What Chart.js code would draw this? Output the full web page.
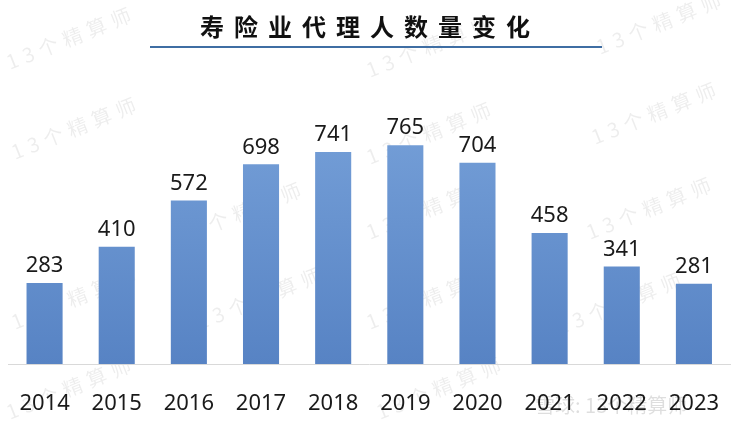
<!DOCTYPE html>
<html>
<head>
<meta charset="utf-8">
<script src="https://cdn.jsdelivr.net/npm/chart.js@4.4.1/dist/chart.umd.min.js"></script>
<style>
  html, body { margin: 0; padding: 0; background: #fff; }
  #wrap { width: 739px; height: 430px; position: relative; }
</style>
</head>
<body>
<div id="wrap"><canvas id="c" width="739" height="430"></canvas></div>
<script>
// ── DATA ────────────────────────────────────────────────
const years  = ['2014', '2015', '2016', '2017', '2018', '2019', '2020', '2021', '2022', '2023'];
const agents = [283, 410, 572, 698, 741, 765, 704, 458, 341, 281];
const titleText = '寿险业代理人数量变化';
const watermark = '13个精算师';

// ── PLUGINS ─────────────────────────────────────────────
const titlePlugin = {
  id: 'titleLine',
  beforeDraw(chart) {
    const { ctx } = chart;
    ctx.save();
    // faint diagonal watermarks
    ctx.fillStyle = 'rgba(0,0,0,0.07)';
    ctx.font = '20px "Noto Sans CJK SC"';
    ctx.letterSpacing = '6px';
    const spots = [[10, 70], [370, 78], [600, 55], [15, 160], [370, 165], [595, 145],
                   [180, 245], [370, 240], [590, 240], [15, 330], [200, 330], [370, 330],
                   [560, 335], [10, 420], [380, 420]];
    spots.forEach(([x, y]) => {
      ctx.save();
      ctx.translate(x, y);
      ctx.rotate(-0.38);
      ctx.fillText(watermark, 0, 0);
      ctx.restore();
    });
    ctx.restore();
  },
  afterDraw(chart) {
    const { ctx } = chart;
    ctx.save();
    ctx.fillStyle = '#111';
    ctx.font = 'bold 24px "Noto Sans CJK SC"';
    ctx.letterSpacing = '10px';
    ctx.textAlign = 'center';
    ctx.textBaseline = 'middle';
    ctx.fillText(titleText, 370, 27);
    ctx.strokeStyle = '#3f6ea3';
    ctx.lineWidth = 2;
    ctx.beginPath();
    ctx.moveTo(150, 47);
    ctx.lineTo(602, 47);
    ctx.stroke();

    // value labels
    const meta = chart.getDatasetMeta(0);
    ctx.letterSpacing = '0px';
    ctx.font = '22px "Noto Sans"';
    ctx.fillStyle = '#1a1a1a';
    ctx.textBaseline = 'bottom';
    meta.data.forEach((bar, i) => {
      ctx.fillText(agents[i], bar.x, bar.y - 6);
    });

    // footer watermark
    ctx.fillStyle = 'rgba(0,0,0,0.13)';
    ctx.font = '20px "Noto Sans CJK SC"';
    ctx.textAlign = 'left';
    ctx.textBaseline = 'middle';
    ctx.fillText('雪球: 13个精算师', 535, 405);
    ctx.restore();
  }
};

// ── CHART ───────────────────────────────────────────────
const ctx = document.getElementById('c').getContext('2d');

function barGradient(context) {
  const area = context.chart.chartArea;
  if (!area) return '#6690cc';
  const g = context.chart.ctx.createLinearGradient(0, area.top, 0, area.bottom);
  g.addColorStop(0, '#7aa4db');
  g.addColorStop(1, '#5783c4');
  return g;
}

new Chart(ctx, {
  type: 'bar',
  data: {
    labels: years,
    datasets: [{
      data: agents,
      backgroundColor: barGradient,
      borderWidth: 0,
      barPercentage: 0.5,
      categoryPercentage: 1,
    }]
  },
  options: {
    responsive: false,
    animation: false,
    layout: { padding: { left: 8, right: 9, top: 78, bottom: 0 } },
    plugins: { legend: { display: false }, tooltip: { enabled: false } },
    scales: {
      x: {
        grid: { display: false },
        border: { display: true, color: '#d9d9d9', width: 1 },
        afterFit: scale => { scale.height = 66; },
        ticks: {
          color: '#1a1a1a',
          padding: 19,
          font: { family: 'Noto Sans', size: 22 }
        }
      },
      y: {
        display: false,
        min: 0,
        max: 1000,
      }
    }
  },
  plugins: [titlePlugin]
});
</script>
</body>
</html>
